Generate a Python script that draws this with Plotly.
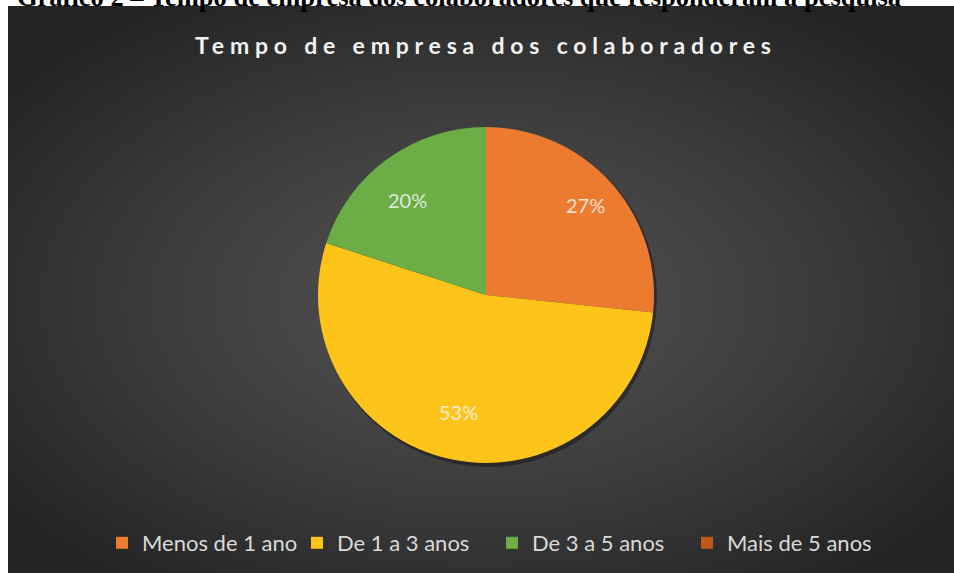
import base64
import math

import plotly.graph_objects as go

categories = ["Menos de 1 ano", "De 1 a 3 anos", "De 3 a 5 anos", "Mais de 5 anos"]
respostas = [4, 8, 3, 0]
cores = ["#EC7B2F", "#FFC41A", "#6CAE45", "#C0581A"]

titulo = "Tempo de empresa dos colaboradores"
cabecalho = "Gráfico 2 – Tempo de empresa dos colaboradores que responderam à pesquisa"

W, H = 954, 573
PX, PY = 8, 6  # canto do painel escuro
CX, CY, R = 486, 295, 168  # centro e raio da pizza, em pixels


def px_x(x):
    return x / W


def px_y(y):
    return 1 - y / H


total = sum(respostas)

# fundo com gradiente radial (como no Excel)
svg = ('<svg xmlns="http://www.w3.org/2000/svg" width="946" height="567">'
       '<defs><radialGradient id="g" cx="50%" cy="52%" r="62%">'
       '<stop offset="0" stop-color="#555555"/>'
       '<stop offset="0.55" stop-color="#3c3c3c"/>'
       '<stop offset="1" stop-color="#242424"/>'
       '</radialGradient></defs>'
       '<rect width="100%" height="100%" fill="url(#g)"/></svg>')
fundo = "data:image/svg+xml;base64," + base64.b64encode(svg.encode()).decode()

fig = go.Figure(go.Pie(
    labels=categories,
    values=respostas,
    textinfo="none",
    sort=False,
    direction="clockwise",
    rotation=0,
    marker=dict(colors=cores, line=dict(width=0)),
    domain=dict(x=[px_x(CX - R), px_x(CX + R)], y=[px_y(CY + R), px_y(CY - R)]),
    hoverinfo="label+percent",
))

# rotulos de porcentagem, no meio de cada fatia (a ~80% do raio)
anotacoes = []
acumulado = 0
for v in respostas:
    if v:
        meio = 2 * math.pi * (acumulado + v / 2) / total
        anotacoes.append(dict(
            text="{:.0f}%".format(100 * v / total),
            xref="paper", yref="paper",
            x=px_x(CX + 0.80 * R * math.sin(meio)),
            y=px_y(CY - 0.80 * R * math.cos(meio)),
            showarrow=False,
            font=dict(family="Lato, Open Sans, sans-serif", size=20,
                      color="rgba(245,245,245,0.85)"),
        ))
    acumulado += v

anotacoes += [
    dict(text="<b>" + cabecalho + "</b>", xref="paper", yref="paper",
         x=px_x(15), y=px_y(-3), xanchor="left", yanchor="middle",
         showarrow=False,
         font=dict(family="Liberation Serif, DejaVu Serif, serif",
                   size=26.5, color="black")),
    dict(text='<b><span style="letter-spacing:5.8px">' + titulo + '</span></b>',
         xref="paper", yref="paper",
         x=px_x(486), y=px_y(45), xanchor="center", yanchor="middle",
         showarrow=False,
         font=dict(family="Lato, Open Sans, sans-serif", size=23,
                   color="#f2f2f2")),
]

fig.update_layout(
    width=W, height=H,
    margin=dict(l=0, r=0, t=0, b=0),
    paper_bgcolor="white",
    showlegend=True,
    legend=dict(
        orientation="h",
        x=px_x(492), xanchor="center",
        y=px_y(543), yanchor="middle",
        entrywidth=150,
        font=dict(family="Lato, Open Sans, sans-serif", size=22, color="#d9d9d9"),
        bgcolor="rgba(0,0,0,0)",
        traceorder="normal",
    ),
    images=[dict(
        source=fundo, xref="paper", yref="paper",
        x=px_x(PX), y=px_y(PY), sizex=1 - px_x(PX), sizey=px_y(PY),
        xanchor="left", yanchor="top", sizing="stretch", layer="below",
    )],
    shapes=[dict(
        type="circle", xref="paper", yref="paper", layer="below",
        x0=px_x(CX - R + 1), x1=px_x(CX + R + 3),
        y0=px_y(CY + R + 4), y1=px_y(CY - R + 1),
        fillcolor="rgba(0,0,0,0.35)", line=dict(width=0),
    )],
    annotations=anotacoes,
)

fig.write_html("out.html",
               config={"displayModeBar": False},
               post_script="document.body.style.margin='0';"
                           "document.body.style.overflow='hidden';")
